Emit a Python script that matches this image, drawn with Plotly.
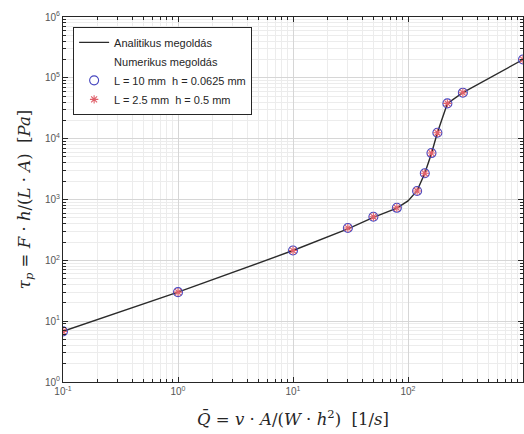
import plotly.graph_objects as go

# Analytical solution, sampled along the shear-rate axis
q_line = [0.1, 1, 10, 30, 50, 80, 100, 120, 140, 160, 180, 220, 300, 1000]
tau_line = [6.8, 30, 145, 330, 510, 720, 950, 1400, 2700, 5700, 12500, 38000, 57000, 200000]

# Numerical solutions (two geometries)
q_num_a = [0.1, 1, 10, 30, 50, 80, 120, 140, 160, 180, 220, 300, 1000]
tau_num_a = [6.8, 30, 145, 340, 520, 730, 1380, 2700, 5800, 12500, 38000, 57000, 200000]
q_num_b = [0.1, 1, 10, 30, 50, 80, 120, 140, 160, 180, 220, 300, 1000]
tau_num_b = [6.8, 30, 145, 340, 520, 730, 1380, 2700, 5800, 12500, 38000, 57000, 200000]

# Decade ticks
x_tickvals = [0.1, 1, 10, 100]
x_ticktext = ["10<sup>-1</sup>", "10<sup>0</sup>", "10<sup>1</sup>", "10<sup>2</sup>"]
y_tickvals = [1, 10, 100, 1e3, 1e4, 1e5, 1e6]
y_ticktext = ["10<sup>0</sup>", "10<sup>1</sup>", "10<sup>2</sup>", "10<sup>3</sup>",
              "10<sup>4</sup>", "10<sup>5</sup>", "10<sup>6</sup>"]

names = ["Analitikus megoldás", "Numerikus megoldás",
         "L = 10 mm  h = 0.0625 mm", "L = 2.5 mm  h = 0.5 mm"]

fig = go.Figure()
fig.add_trace(go.Scatter(x=q_line, y=tau_line, mode="lines", name=names[0],
                         line=dict(color="#2b2b2b", width=1.4)))
fig.add_trace(go.Scatter(x=[None], y=[None], mode="lines", name=names[1],
                         line=dict(color="rgba(0,0,0,0)", width=0)))
fig.add_trace(go.Scatter(x=q_num_a, y=tau_num_a, mode="markers", name=names[2],
                         marker=dict(symbol="circle-open", size=9,
                                     color="#4848c0", line=dict(width=1.1))))
fig.add_trace(go.Scatter(x=q_num_b, y=tau_num_b, mode="markers", name=names[3],
                         marker=dict(symbol="asterisk-open", size=7,
                                     color="#e0606a", line=dict(width=1.1))))

axis_common = dict(
    type="log",
    showline=True, linecolor="#262626", linewidth=1, mirror="ticks",
    ticks="inside", ticklen=5, tickcolor="#262626",
    showgrid=True, gridcolor="#d6d6d6", gridwidth=1, zeroline=False,
    minor=dict(dtick="D1", showgrid=True, gridcolor="#ececec",
               ticks="inside", ticklen=3, tickcolor="#262626"),
    tickfont=dict(family="Liberation Sans, Arial", size=10, color="#555555"),
)

title_font = dict(family="DejaVu Serif, Liberation Serif", size=16.5, color="#262626")

fig.update_xaxes(range=[-1, 3], tickmode="array", tickvals=x_tickvals, ticktext=x_ticktext,
                 **axis_common,
                 title=dict(text="<i>Q\u0304</i> = <i>v</i> · <i>A</i>/(<i>W</i> · <i>h</i><sup>2</sup>)  [1/<i>s</i>]",
                            font=title_font, standoff=17))
fig.update_yaxes(range=[0, 6], tickmode="array", tickvals=y_tickvals, ticktext=y_ticktext,
                 **axis_common,
                 title=dict(text="<i>τ<sub>p</sub></i> = <i>F</i> · <i>h</i>/(<i>L</i> · <i>A</i>)  [<i>Pa</i>]",
                            font=title_font, standoff=10))

fig.update_layout(
    width=524, height=434,
    margin=dict(l=63, r=1, t=17, b=52),
    paper_bgcolor="white", plot_bgcolor="white",
    legend=dict(x=0.022, y=0.973, xanchor="left", yanchor="top",
                bgcolor="white", bordercolor="#262626", borderwidth=1,
                font=dict(family="Liberation Sans, Arial", size=11, color="#262626"),
                tracegroupgap=0),
)

fig.write_html("out.html")
